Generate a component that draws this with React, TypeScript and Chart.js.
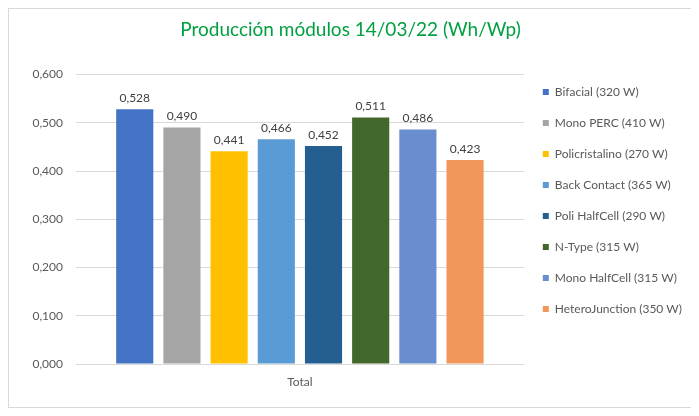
import React, { useEffect, useRef } from "react";
import { Chart, registerables } from "chart.js";

Chart.register(...registerables);

const categories = ["Total"];
const seriesNames = [
  "Bifacial (320 W)",
  "Mono PERC (410 W)",
  "Policristalino (270 W)",
  "Back Contact (365 W)",
  "Poli HalfCell (290 W)",
  "N-Type (315 W)",
  "Mono HalfCell (315 W)",
  "HeteroJunction (350 W)",
];
const seriesValues = [0.528, 0.49, 0.441, 0.466, 0.452, 0.511, 0.486, 0.423];
const seriesColors = [
  "#4472C4",
  "#A5A5A5",
  "#FFC000",
  "#5B9BD5",
  "#255E91",
  "#43682B",
  "#698ED0",
  "#F1975A",
];
const yTicks = { min: 0, max: 0.6, step: 0.1 };

const FONT = "Lato, 'Open Sans', sans-serif";
const fmt = (v: number) => v.toFixed(3).replace(".", ",");

const valueLabels = {
  id: "valueLabels",
  afterDatasetsDraw(chart: any) {
    const ctx = chart.ctx;
    ctx.save();
    ctx.font = `12px ${FONT}`;
    ctx.fillStyle = "#404040";
    ctx.textAlign = "center";
    ctx.textBaseline = "bottom";
    chart.data.datasets.forEach((ds: any, i: number) => {
      const meta = chart.getDatasetMeta(i);
      meta.data.forEach((el: any, j: number) => {
        ctx.fillText(fmt(ds.data[j]), el.x, el.y - 5);
      });
    });
    ctx.restore();
  },
};

export default function App() {
  const ref = useRef<HTMLCanvasElement>(null);
  useEffect(() => {
    if (!ref.current) return;
    const chart = new Chart(ref.current, {
      type: "bar",
      data: {
        labels: categories,
        datasets: seriesNames.map((name, i) => ({
          label: name,
          data: [seriesValues[i]],
          backgroundColor: seriesColors[i],
          borderWidth: 0,
          categoryPercentage: 0.843,
          barPercentage: 0.787,
        })),
      },
      options: {
        responsive: false,
        animation: false,
        layout: { padding: { bottom: 15 } },
        plugins: {
          tooltip: { enabled: false },
          title: {
            display: true,
            text: "Producción módulos 14/03/22 (Wh/Wp)",
            color: "#00A040",
            font: { family: FONT, size: 19, weight: "normal" },
            padding: { top: 9.6, bottom: 33.1 },
          },
          legend: {
            position: "right",
            align: "center",
            maxWidth: 170,
            labels: {
              boxWidth: 6,
              boxHeight: 6,
              padding: 19,
              color: "#595959",
              font: { family: FONT, size: 12 },
            },
          },
        },
        scales: {
          x: {
            grid: { display: false },
            border: { display: false },
            ticks: {
              color: "#595959",
              font: { family: FONT, size: 12 },
              padding: 3,
            },
            afterFit: (s: any) => {
              s.height = 28;
            },
          },
          y: {
            min: yTicks.min,
            max: yTicks.max,
            grid: { color: "#D9D9D9", drawTicks: false },
            border: { display: false },
            ticks: {
              stepSize: yTicks.step,
              color: "#595959",
              font: { family: FONT, size: 12 },
              padding: 13,
              callback: (v: any) => fmt(Number(v)),
            },
            afterFit: (s: any) => {
              s.width = 67;
            },
          },
        },
      },
      plugins: [valueLabels],
    } as any);
    return () => chart.destroy();
  }, []);
  return (
    <div
      style={{
        width: 685,
        height: 400,
        border: "1px solid #D9D9D9",
        boxSizing: "border-box",
        background: "#fff",
      }}
    >
      <canvas ref={ref} width={683} height={398} style={{ display: "block" }} />
    </div>
  );
}
